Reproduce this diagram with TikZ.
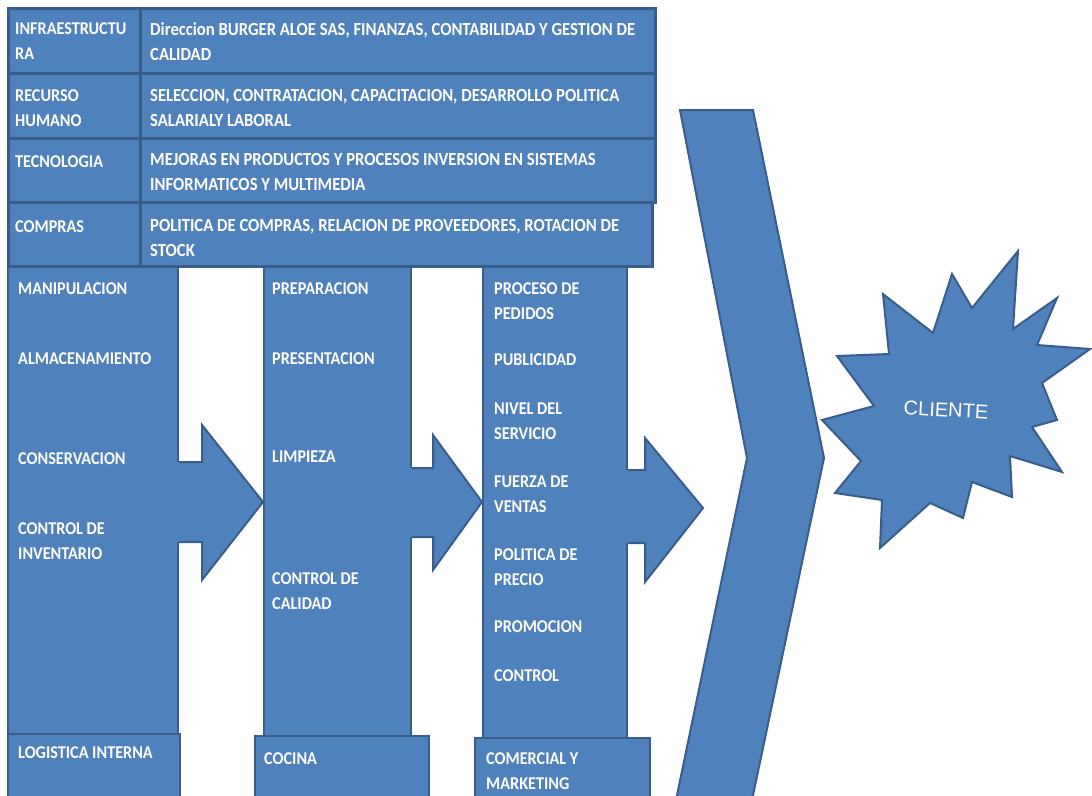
\documentclass[tikz,border=0pt]{standalone}
\usepackage{fontspec}
\setmainfont{Carlito}[FakeStretch=0.9]
\newfontfamily\arialf{Liberation Sans}
\definecolor{fillb}{RGB}{79,129,189}
\definecolor{edgeb}{RGB}{56,93,138}
\begin{document}
\begin{tikzpicture}[x=1pt,y=-1pt,
  box/.style={fill=fillb, draw=edgeb, line width=2pt},
  cell/.style={fill=fillb, draw=edgeb, line width=3pt},
  arrowfill/.style={fill=fillb},
  arrowedge/.style={draw=edgeb, line width=2pt, line join=miter},
  lbl/.style={anchor=north west, inner sep=0pt, text=white,
    font=\fontsize{18}{25}\selectfont\bfseries, align=left},
  lblw/.style={lbl, font=\fontsize{18.5}{25}\selectfont\bfseries},
]
\useasboundingbox (0,0) rectangle (1092,795);
\fill[white] (0,0) rectangle (1092,795);

% support activities (top block)
\draw[cell] (8,8) rectangle (140.5,73.5);
\draw[cell] (140.5,8) rectangle (655,73.5);
\draw[cell] (8,73.5) rectangle (140.5,138.5);
\draw[cell] (140.5,73.5) rectangle (655,138.5);
\draw[cell] (8,138.5) rectangle (140.5,202.5);
\draw[cell] (140.5,138.5) rectangle (655,202.5);
\draw[cell] (8,202.5) rectangle (140.5,266);
\draw[cell] (140.5,202.5) rectangle (652,266);

\node[lbl] (infra) at (15,22) {INFRAESTRUCTU\\RA};
\node[lblw] (infrat) at (150,22) {Direccion BURGER ALOE SAS, FINANZAS, CONTABILIDAD Y GESTION DE\\CALIDAD};
\node[lbl] (rrhh) at (15,89) {RECURSO\\HUMANO};
\node[lblw] (rrhht) at (150,89) {SELECCION, CONTRATACION, CAPACITACION, DESARROLLO POLITICA\\SALARIALY LABORAL};
\node[lbl] (tec) at (15,155) {TECNOLOGIA};
\node[lblw] (tect) at (150,153) {MEJORAS EN PRODUCTOS Y PROCESOS INVERSION EN SISTEMAS\\INFORMATICOS Y MULTIMEDIA};
\node[lbl] (comp) at (15,220) {COMPRAS};
\node[lblw] (compt) at (150,219) {POLITICA DE COMPRAS, RELACION DE PROVEEDORES, ROTACION DE\\STOCK};

% primary columns
\draw[box] (8,267) rectangle (178,735);
\draw[box] (264,267) rectangle (411,737);
\draw[box] (483,267) rectangle (627,738);
\draw[box] (8,734) rectangle (180,800);
\draw[box] (255,736) rectangle (429,800);
\draw[box] (475,738) rectangle (650,800);

% arrows between columns
\fill[arrowfill] (176,462) -- (202,462) -- (202,425) -- (263,502) -- (202,580) -- (202,542) -- (176,542) -- cycle;
\draw[arrowedge] (179,462) -- (202,462) -- (202,425) -- (263,502) -- (202,580) -- (202,542) -- (179,542);
\fill[arrowfill] (409,468) -- (433,468) -- (433,435) -- (482,502) -- (433,570) -- (433,537) -- (409,537) -- cycle;
\draw[arrowedge] (412,468) -- (433,468) -- (433,435) -- (482,502) -- (433,570) -- (433,537) -- (412,537);
\fill[arrowfill] (625,470) -- (645,470) -- (645,438) -- (703,508) -- (645,582) -- (645,543) -- (625,543) -- cycle;
\draw[arrowedge] (628,470) -- (645,470) -- (645,438) -- (703,508) -- (645,582) -- (645,543) -- (628,543);

% big chevron
\draw[box, line join=miter] (680,110) -- (753,110) -- (824,458) -- (752,800) -- (676,800) -- (747,458) -- cycle;

% star
\draw[box, line join=miter] (837,356) -- (889,354) -- (883,294) -- (933,333) -- (952,274) -- (972,308) -- (1018,251) -- (1013,329) -- (1057,298) -- (1037,345) -- (1090,349) -- (1042,383) -- (1057,420) -- (1032,427) -- (1062,472) -- (1010,456) -- (1012,497) -- (972,482) -- (963,518) -- (930,503) -- (880,548) -- (882,500) -- (835,493) -- (861,461) -- (822,420) -- (874,406) -- cycle;
\node[text=white, font=\arialf\fontsize{20}{24}\selectfont, rotate=-3] (cliente) at (946,410) {CLIENTE};

% column texts
\node[lbl] (c1a) at (18,282) {MANIPULACION};
\node[lbl] (c1b) at (18,352) {ALMACENAMIENTO};
\node[lbl] (c1c) at (18,452) {CONSERVACION};
\node[lbl] (c1d) at (18,522) {CONTROL DE\\INVENTARIO};
\node[lbl] (c1e) at (18,746) {LOGISTICA INTERNA};

\node[lbl] (c2a) at (272,282) {PREPARACION};
\node[lbl] (c2b) at (272,352) {PRESENTACION};
\node[lbl] (c2c) at (272,451) {LIMPIEZA};
\node[lbl] (c2d) at (272,572) {CONTROL DE\\CALIDAD};
\node[lbl] (c2e) at (264,752) {COCINA};

\node[lbl] (c3a) at (494,282) {PROCESO DE\\PEDIDOS};
\node[lbl] (c3b) at (494,353) {PUBLICIDAD};
\node[lbl] (c3c) at (494,403) {NIVEL DEL\\SERVICIO};
\node[lbl] (c3d) at (494,476) {FUERZA DE\\VENTAS};
\node[lbl] (c3e) at (494,548) {POLITICA DE\\PRECIO};
\node[lbl] (c3f) at (494,620) {PROMOCION};
\node[lbl] (c3g) at (494,669) {CONTROL};
\node[lbl] (c3h) at (486,752) {COMERCIAL Y\\MARKETING};
\end{tikzpicture}
\end{document}
